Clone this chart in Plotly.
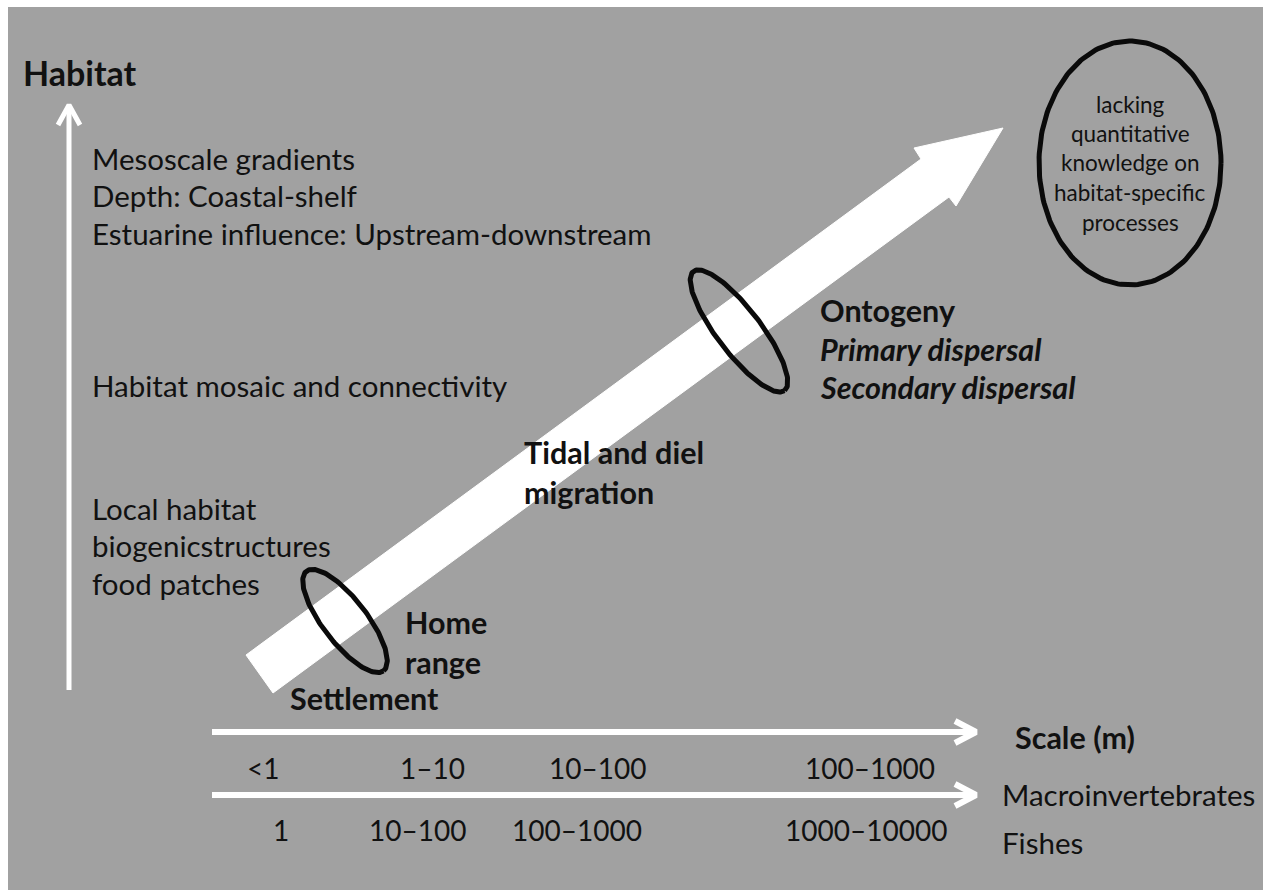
import numpy as np
import plotly.graph_objects as go

# ---------------- content ----------------
y_axis_title = "Habitat"
x_axis_title = "Scale (m)"
habitat_levels = [
    ["Mesoscale gradients", "Depth: Coastal-shelf", "Estuarine influence: Upstream-downstream"],
    ["Habitat mosaic and connectivity"],
    ["Local habitat", "biogenicstructures", "food patches"],
]
process_groups = [
    [("Ontogeny", "b"), ("Primary dispersal", "bi"), ("Secondary dispersal", "bi")],
    [("Tidal and diel", "b"), ("migration", "b")],
    [("Home", "b"), ("range", "b")],
    [("Settlement", "b")],
]
gap_note = ["lacking", "quantitative", "knowledge on", "habitat-specific", "processes"]
macro_scale_labels = ["<1", "1–10", "10–100", "100–1000"]
fish_scale_labels = ["1", "10–100", "100–1000", "1000–10000"]
organism_groups = ["Macroinvertebrates", "Fishes"]

# ---------------- layout (pixel positions) ----------------
W, H = 1266, 892
BG = "#a1a1a1"
INK = "#111111"
FONT = "Lato"
FS = 29.5
FSB = 30.5
FSN = 28

habitat_block_pos = [(90, 158), (90, 385), (90, 508)]
line_gap = 37.5
process_pos = [(818, 310), (522, 452), (403, 622), (288, 698)]
process_gap = [38.5, 39.5, 40, 0]
gap_note_y = [104, 133, 162, 192, 222]
gap_note_x = 1130
macro_x = [263, 432, 597, 870]
fish_x = [281, 417, 577, 866]
macro_y, fish_y = 768, 830
scale_arrow_y = [732, 795]

fig = go.Figure()


def add_line(xs, ys, width, color="white"):
    fig.add_trace(go.Scatter(x=xs, y=ys, mode="lines", hoverinfo="skip",
                             line=dict(color=color, width=width), showlegend=False))


def ellipse(cx, cy, a, b, theta_deg, n=200):
    t = np.linspace(0, 2 * np.pi, n)
    th = np.deg2rad(theta_deg)
    x = cx + a * np.cos(t) * np.cos(th) - b * np.sin(t) * np.sin(th)
    y = cy + a * np.cos(t) * np.sin(th) + b * np.sin(t) * np.cos(th)
    return x, y


# vertical habitat axis arrow
add_line([69, 69], [690, 107], 5)
add_line([58, 69, 80], [125, 105, 125], 5)

# horizontal scale arrows
for yy in scale_arrow_y:
    add_line([212, 974], [yy, yy], 6)
    add_line([955, 976, 955], [yy - 11, yy, yy + 11], 6)

# big diagonal arrow
ax = [246, 921, 914, 1003, 956, 949, 273, 246]
ay = [655, 159, 148, 128, 206, 197, 693, 655]
fig.add_trace(go.Scatter(x=ax, y=ay, mode="lines", fill="toself", fillcolor="white",
                         line=dict(color="white", width=1), hoverinfo="skip", showlegend=False))

# ellipses
for (cx, cy, a, b, th) in [(345, 621, 63, 22, 52.3), (739, 331, 75, 22, 52.6), (1130, 163, 91, 122, 0)]:
    ex, ey = ellipse(cx, cy, a, b, th)
    add_line(list(ex), list(ey), 5, color="#0a0a0a")

ann = []


def txt(x, y, s, size=FS, bold=False, italic=False, xanchor="left"):
    if bold:
        s = "<b>" + s + "</b>"
    if italic:
        s = "<i>" + s + "</i>"
    ann.append(dict(x=x, y=y, xref="x", yref="y", text=s, showarrow=False,
                    xanchor=xanchor, yanchor="middle",
                    font=dict(family=FONT, size=size, color=INK)))


txt(21, 72, y_axis_title, size=34, bold=True)
for (px, py), lines in zip(habitat_block_pos, habitat_levels):
    for i, s in enumerate(lines):
        txt(px, py + i * line_gap, s)
for (px, py), gap, lines in zip(process_pos, process_gap, process_groups):
    for i, (s, st) in enumerate(lines):
        txt(px, py + i * gap, s, size=FSB, bold="b" in st, italic="i" in st)
for s, yy in zip(gap_note, gap_note_y):
    txt(gap_note_x, yy, s, size=22.5, xanchor="center")

txt(1013, 737, x_axis_title, size=FSB, bold=True)
for s, xx in zip(macro_scale_labels, macro_x):
    txt(xx, macro_y, s, size=FSN, xanchor="center")
for s, xx in zip(fish_scale_labels, fish_x):
    txt(xx, fish_y, s, size=FSN, xanchor="center")
txt(1000, 794, organism_groups[0], size=FS)
txt(1000, 842, organism_groups[1], size=FS)

fig.update_layout(
    width=W, height=H, margin=dict(l=0, r=0, t=0, b=0),
    paper_bgcolor="white", plot_bgcolor="white",
    xaxis=dict(range=[0, W], visible=False, fixedrange=True),
    yaxis=dict(range=[H, 0], visible=False, fixedrange=True),
    shapes=[dict(type="rect", xref="x", yref="y", x0=8, y0=7, x1=1263, y1=890,
                 fillcolor=BG, line=dict(width=0), layer="below")],
    annotations=ann,
)

fig.write_html("out.html", config={"displayModeBar": False, "staticPlot": True},
               post_script="document.body.style.margin='0';")
